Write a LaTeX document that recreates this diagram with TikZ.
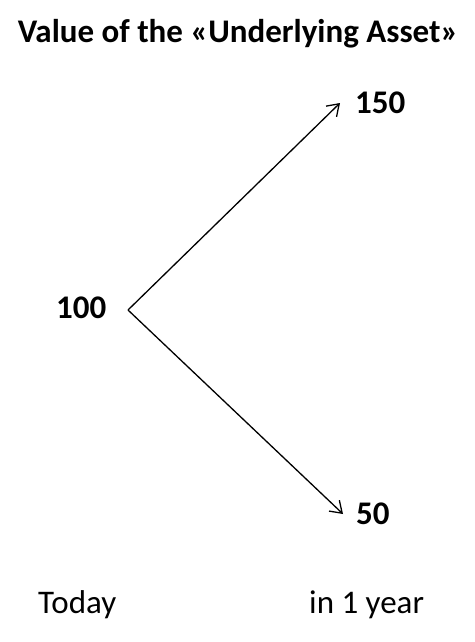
\documentclass[tikz,border=0pt]{standalone}
\usepackage{fontspec}
\setmainfont{Carlito}
\usetikzlibrary{arrows.meta}

\begin{document}
\begin{tikzpicture}[x=1pt,y=-1pt,
	value_node/.style={font=\fontsize{33}{38}\selectfont\bfseries,inner sep=0pt,anchor=base west},
	time_node/.style={font=\fontsize{33}{38}\selectfont,inner sep=0pt,anchor=base west},
	branch/.style={-{Straight Barb[length=11pt,width=15pt]},line width=1.3pt}]

		\useasboundingbox (0,0) rectangle (474,642);

		\node[value_node,anchor=base] (0) at (238,42) {Value of the «Underlying Asset»};
		\node[value_node] (1) at (56,318) {100};
		\node[value_node] (2) at (355,113) {150};
		\node[value_node] (3) at (356,524) {50};
		\node[time_node] (4) at (38,613) {Today};
		\node[time_node] (5) at (309,613) {in 1 year};

		\coordinate (6) at (128,310);
		\coordinate (7) at (340,103);
		\coordinate (8) at (343,514);

		\draw[branch] (6) -- (7);
		\draw[branch] (6) -- (8);
		\end{tikzpicture}
\end{document}
